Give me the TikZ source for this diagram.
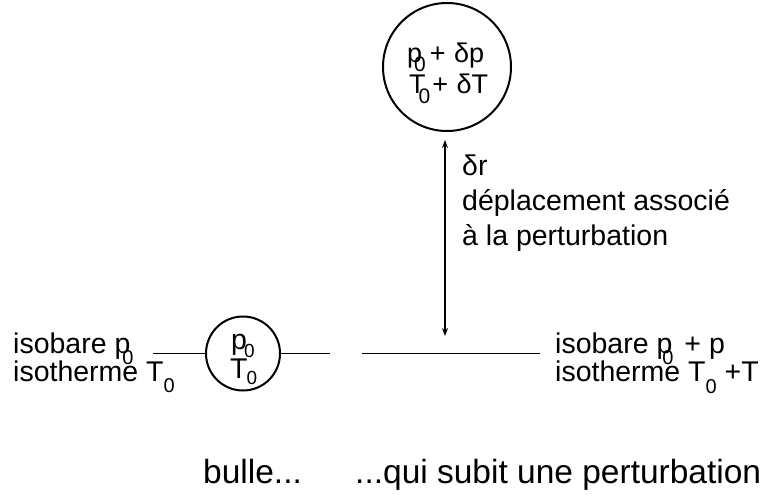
\documentclass[tikz,border=0pt]{standalone}
\usepackage{fontspec}
\setmainfont{Liberation Sans}
\usetikzlibrary{arrows.meta}
% #1 = lowering (pt), #2 = size (pt)
\newcommand{\zs}[2]{\raisebox{-#1pt}[0pt][0pt]{\fontsize{#2}{#2}\selectfont 0}}
\begin{document}
\begin{tikzpicture}[x=1pt,y=-1pt,
  lbl/.style={anchor=base west, inner sep=0pt, font=\fontsize{28.5}{28.5}\selectfont},
  inl/.style={anchor=base west, inner sep=0pt, font=\fontsize{27}{27}\selectfont},
  big/.style={anchor=base west, inner sep=0pt, font=\fontsize{33.5}{33.5}\selectfont},
  bubble/.style={circle, draw, line width=2pt, inner sep=0pt},
  iso/.style={line width=1.5pt},
  arr/.style={line width=1.5pt, {Stealth[length=8pt,width=6pt]}-{Stealth[length=8pt,width=6pt]}}]
\useasboundingbox (0,0) rectangle (771,495);
% top bubble
\node[bubble, minimum size=128pt] (top) at (447,67) {};
\node[inl] (tp) at (407,63) {p\kern-8pt\zs{9}{21}\kern4pt{}+\kern8.5pt{}δp};
\node[inl] (tT) at (409,93) {T\kern-7pt\zs{10}{21}\kern2pt{}+\kern8.5pt{}δT};
% small bubble
\node[bubble, minimum size=74pt] (bub) at (243,353.5) {};
\node[lbl] (bp) at (231,349) {p\kern-3pt\zs{8}{19}};
\node[lbl] (bT) at (230,378) {T\kern-1pt\zs{6}{19}};
% isobar lines
\coordinate (l0) at (153,353.5);
\coordinate (r0) at (330,353.5);
\draw[iso] (l0) -- (bub.west);
\draw[iso] (bub.east) -- (r0);
\coordinate (l1) at (362,353.5);
\coordinate (r1) at (540,353.5);
\draw[iso] (l1) -- (r1);
% displacement arrow
\coordinate (atop) at (445,140);
\coordinate (abot) at (445,336);
\draw[arr] (atop) -- (abot);
\node[lbl] (dr) at (462,175) {δr};
\node[lbl] (d1) at (462,210) {déplacement associé};
\node[lbl] (d2) at (462,245) {à la perturbation};
% left labels
\node[lbl] (li1) at (13,353) {isobare p\kern-8pt\zs{11}{20}};
\node[lbl] (li2) at (13,381) {isotherme T\zs{11}{20}};
% right labels
\node[lbl] (ri1) at (555,353) {isobare p\kern-10pt\zs{11}{20}\kern3pt{} + p};
\node[lbl] (ri2) at (555,381) {isotherme T\zs{12}{20} +T};
% bottom
\node[big] (b1) at (203,483) {bulle...};
\node[big] (b2) at (355,483) {...qui subit une perturbation};
\end{tikzpicture}
\end{document}
